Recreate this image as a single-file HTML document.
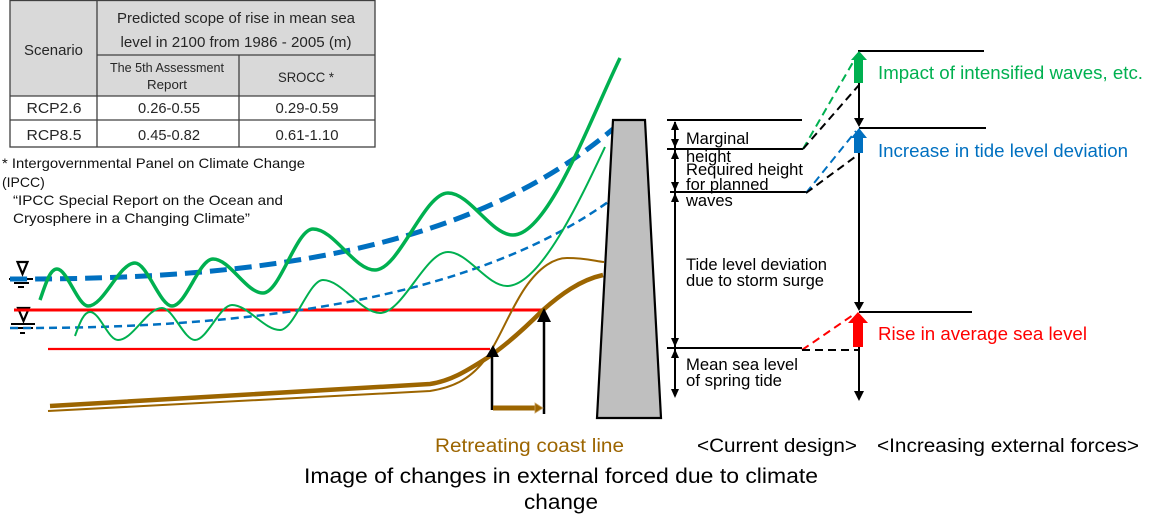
<!DOCTYPE html>
<html>
<head>
<meta charset="utf-8">
<style>
html,body{margin:0;padding:0;background:#fff;}
svg{display:block;}
text{font-family:"Liberation Sans",Arial,sans-serif;}
</style>
</head>
<body>
<svg width="1161" height="530" viewBox="0 0 1161 530" xmlns="http://www.w3.org/2000/svg">
<rect width="1161" height="530" fill="#fff"/>

<!-- TABLE -->
<rect x="10" y="0.5" width="365" height="96" fill="#d9d9d9"/>
<g stroke="#404040" stroke-width="1.3" fill="none">
  <rect x="10" y="0.5" width="365" height="146.5"/>
  <line x1="97" y1="0.5" x2="97" y2="147"/>
  <line x1="239" y1="55" x2="239" y2="147"/>
  <line x1="97" y1="55" x2="375" y2="55"/>
  <line x1="10" y1="96" x2="375" y2="96"/>
  <line x1="10" y1="120" x2="375" y2="120"/>
</g>
<g fill="#262626" font-size="15" text-anchor="middle">
  <text x="236" y="23" textLength="238" lengthAdjust="spacingAndGlyphs">Predicted scope of rise in mean sea</text>
  <text x="236" y="47" textLength="231" lengthAdjust="spacingAndGlyphs">level in 2100 from 1986 - 2005 (m)</text>
  <text x="53.5" y="55" textLength="59" lengthAdjust="spacingAndGlyphs">Scenario</text>
  <text x="167" y="72" font-size="12.5" textLength="114" lengthAdjust="spacingAndGlyphs">The 5th Assessment</text>
  <text x="167" y="89" font-size="12.5" textLength="40" lengthAdjust="spacingAndGlyphs">Report</text>
  <text x="306" y="82" font-size="14" textLength="56" lengthAdjust="spacingAndGlyphs">SROCC *</text>
  <text x="54" y="113" textLength="55" lengthAdjust="spacingAndGlyphs">RCP2.6</text>
  <text x="169" y="113" textLength="62" lengthAdjust="spacingAndGlyphs">0.26-0.55</text>
  <text x="307" y="113" textLength="63" lengthAdjust="spacingAndGlyphs">0.29-0.59</text>
  <text x="54" y="140" textLength="55" lengthAdjust="spacingAndGlyphs">RCP8.5</text>
  <text x="169" y="140" textLength="62" lengthAdjust="spacingAndGlyphs">0.45-0.82</text>
  <text x="307" y="140" textLength="63" lengthAdjust="spacingAndGlyphs">0.61-1.10</text>
</g>

<!-- FOOTNOTE -->
<g fill="#111" font-size="14">
  <text x="2" y="168" textLength="303" lengthAdjust="spacingAndGlyphs">* Intergovernmental Panel on Climate Change</text>
  <text x="2" y="187">(IPCC)</text>
  <text x="13" y="205" textLength="270" lengthAdjust="spacingAndGlyphs">“IPCC Special Report on the Ocean and</text>
  <text x="13" y="223" textLength="237" lengthAdjust="spacingAndGlyphs">Cryosphere in a Changing Climate”</text>
</g>

<!-- WATER LEVEL SYMBOLS -->
<g stroke="#000" fill="none">
  <polygon points="17.5,262 27.5,262 22.5,274" stroke-width="2.2" fill="#fff"/>
  <line x1="9" y1="279" x2="33" y2="279" stroke-width="2"/>
  <line x1="14" y1="283" x2="29" y2="283" stroke-width="2"/>
  <line x1="18" y1="287" x2="24" y2="287" stroke-width="2"/>
  <polygon points="18,308 29,308 23.5,321" stroke-width="2.2" fill="#fff"/>
  <line x1="11" y1="324" x2="35" y2="324" stroke-width="2"/>
  <line x1="15" y1="328" x2="33" y2="328" stroke-width="2"/>
  <line x1="20" y1="333" x2="25" y2="333" stroke-width="2"/>
</g>

<!-- RED LINES -->
<line x1="14" y1="310" x2="543" y2="310" stroke="#ff0000" stroke-width="3"/>
<line x1="48" y1="349" x2="490" y2="349" stroke="#ff0000" stroke-width="2.2"/>

<!-- BLUE DASHED -->
<path d="M10,279 C260,280 470,250 613,129" stroke="#0070c0" stroke-width="5" fill="none" stroke-dasharray="17 8"/>
<path d="M10,328 C250,329 470,300 608,202" stroke="#0070c0" stroke-width="2.5" fill="none" stroke-dasharray="8 5"/>

<!-- GREEN WAVES -->
<path d="M40,300 C46,283 50,269 57,269 C67,269 78,306 88,306 C104,306 119,263 135,263 C147,263 160,306 172,306 C186,306 199,259 213,259 C230,259 246,293 263,293 C280,293 296,229 313,229 C334,229 354,270 375,270 C399,270 424,193 448,193 C470,193 491,235 513,235 C548,235 590,120 620,58" stroke="#00b050" stroke-width="3.5" fill="none"/>
<path d="M75,336 C80,322 84,312 90,312 C100,312 108,340 118,340 C133,340 147,308 162,308 C173,308 184,340 195,340 C207,340 220,305 232,305 C248,305 264,330 280,330 C294,330 309,280 323,280 C342,280 361,313 380,313 C403,313 425,252 448,252 C468,252 487,286 507,286 C540,286 580,200 605,147" stroke="#00b050" stroke-width="2" fill="none"/>

<!-- BROWN COAST -->
<path d="M50,406 L430,384 C450,381 465,372 487,358 C505,346 525,328 543,310 C560,295 580,280 603,275" stroke="#9c6500" stroke-width="4.5" fill="none" stroke-linejoin="round"/>
<path d="M48,411 L430,391 C455,387 472,378 487,357 C500,338 510,310 525,288 C540,266 555,258 567,258 C585,258 595,261 604,262" stroke="#9c6500" stroke-width="2" fill="none"/>

<!-- BLACK ARROWS (retreat) -->
<line x1="492" y1="356" x2="492" y2="410" stroke="#000" stroke-width="2.5"/>
<polygon points="493,345 486,357 499,357" fill="#000"/>
<line x1="544" y1="320" x2="544" y2="414" stroke="#000" stroke-width="2.5"/>
<polygon points="544,308 537,322 551,322" fill="#000"/>
<line x1="493" y1="408" x2="536" y2="408" stroke="#9c6500" stroke-width="5"/>
<polygon points="535,403 543,408 535,413" fill="#9c6500" stroke="#c8a060" stroke-width="0.8"/>

<!-- WALL -->
<polygon points="613,120 645,120 661,418 597,418" fill="#bfbfbf" stroke="#000" stroke-width="2.2"/>

<!-- CURRENT DESIGN DIMENSIONS -->
<g stroke="#000" stroke-width="2">
  <line x1="667" y1="120" x2="802" y2="120"/>
  <line x1="667" y1="149" x2="803" y2="149"/>
  <line x1="670" y1="192" x2="807" y2="192"/>
  <line x1="667" y1="348" x2="802" y2="348"/>
  <line x1="675" y1="122" x2="675" y2="396"/>
</g>
<g fill="#000">
  <polygon points="675,121 671,130 679,130"/>
  <polygon points="675,148 671,139 679,139"/>
  <polygon points="675,150 671,159 679,159"/>
  <polygon points="675,191 671,182 679,182"/>
  <polygon points="675,193 671,202 679,202"/>
  <polygon points="675,347 671,338 679,338"/>
  <polygon points="675,349 671,358 679,358"/>
  <polygon points="675,398 671,389 679,389"/>
</g>
<g fill="#000" font-size="16.5">
  <text x="686" y="144" textLength="63" lengthAdjust="spacingAndGlyphs">Marginal</text>
  <text x="686" y="162">height</text>
  <text x="686" y="175" textLength="117" lengthAdjust="spacingAndGlyphs">Required height</text>
  <text x="686" y="190">for planned</text>
  <text x="686" y="206">waves</text>
  <text x="686" y="270" textLength="141" lengthAdjust="spacingAndGlyphs">Tide level deviation</text>
  <text x="686" y="286" textLength="138" lengthAdjust="spacingAndGlyphs">due to storm surge</text>
  <text x="686" y="370" textLength="112" lengthAdjust="spacingAndGlyphs">Mean sea level</text>
  <text x="686" y="386" textLength="96" lengthAdjust="spacingAndGlyphs">of spring tide</text>
</g>

<!-- INCREASING EXTERNAL FORCES -->
<g stroke-width="2" fill="none" stroke-dasharray="8 5">
  <line x1="803" y1="149" x2="856" y2="57" stroke="#00b050"/>
  <line x1="803" y1="149" x2="859" y2="85" stroke="#000"/>
  <line x1="806" y1="193" x2="856" y2="131" stroke="#0070c0"/>
  <line x1="806" y1="193" x2="859" y2="154" stroke="#000"/>
  <line x1="802" y1="350" x2="853" y2="315" stroke="#ff0000"/>
  <line x1="802" y1="350" x2="859" y2="350" stroke="#000"/>
</g>
<g stroke="#000" stroke-width="2">
  <line x1="858" y1="51" x2="984" y2="51"/>
  <line x1="859" y1="128" x2="986" y2="128"/>
  <line x1="859" y1="312" x2="972" y2="312"/>
  <line x1="859" y1="83" x2="859" y2="120"/>
  <line x1="859" y1="153" x2="859" y2="304"/>
  <line x1="859" y1="346" x2="859" y2="393"/>
</g>
<g fill="#000">
  <polygon points="859,127 854,118 864,118"/>
  <polygon points="859,311 854,302 864,302"/>
  <polygon points="859,401 854,391 864,391"/>
</g>
<!-- block arrows -->
<polygon points="859,51 867,60 863,60 863,83 854,83 854,60 851,60" fill="#00b050"/>
<polygon points="859,128 867,138 863,138 863,153 854,153 854,138 851,138" fill="#0070c0"/>
<polygon points="858,312 868,323 863,323 863,347 853,347 853,323 848,323" fill="#ff0000"/>

<g font-size="18.5">
  <text x="878" y="79" fill="#00b050" textLength="265" lengthAdjust="spacingAndGlyphs">Impact of intensified waves, etc.</text>
  <text x="878" y="157" fill="#0070c0" textLength="250" lengthAdjust="spacingAndGlyphs">Increase in tide level deviation</text>
  <text x="878" y="340" fill="#ff0000" textLength="209" lengthAdjust="spacingAndGlyphs">Rise in average sea level</text>
</g>

<!-- BOTTOM LABELS -->
<g font-size="19">
  <text x="435" y="452" fill="#9c6500" textLength="189" lengthAdjust="spacingAndGlyphs">Retreating coast line</text>
  <text x="697" y="452" fill="#000" textLength="160" lengthAdjust="spacingAndGlyphs">&lt;Current design&gt;</text>
  <text x="877" y="452" fill="#000" textLength="262" lengthAdjust="spacingAndGlyphs">&lt;Increasing external forces&gt;</text>
</g>
<g font-size="21.5" fill="#000">
  <text x="304" y="483" textLength="514" lengthAdjust="spacingAndGlyphs">Image of changes in external forced due to climate</text>
  <text x="524" y="509" textLength="74" lengthAdjust="spacingAndGlyphs">change</text>
</g>
</svg>
</body>
</html>
